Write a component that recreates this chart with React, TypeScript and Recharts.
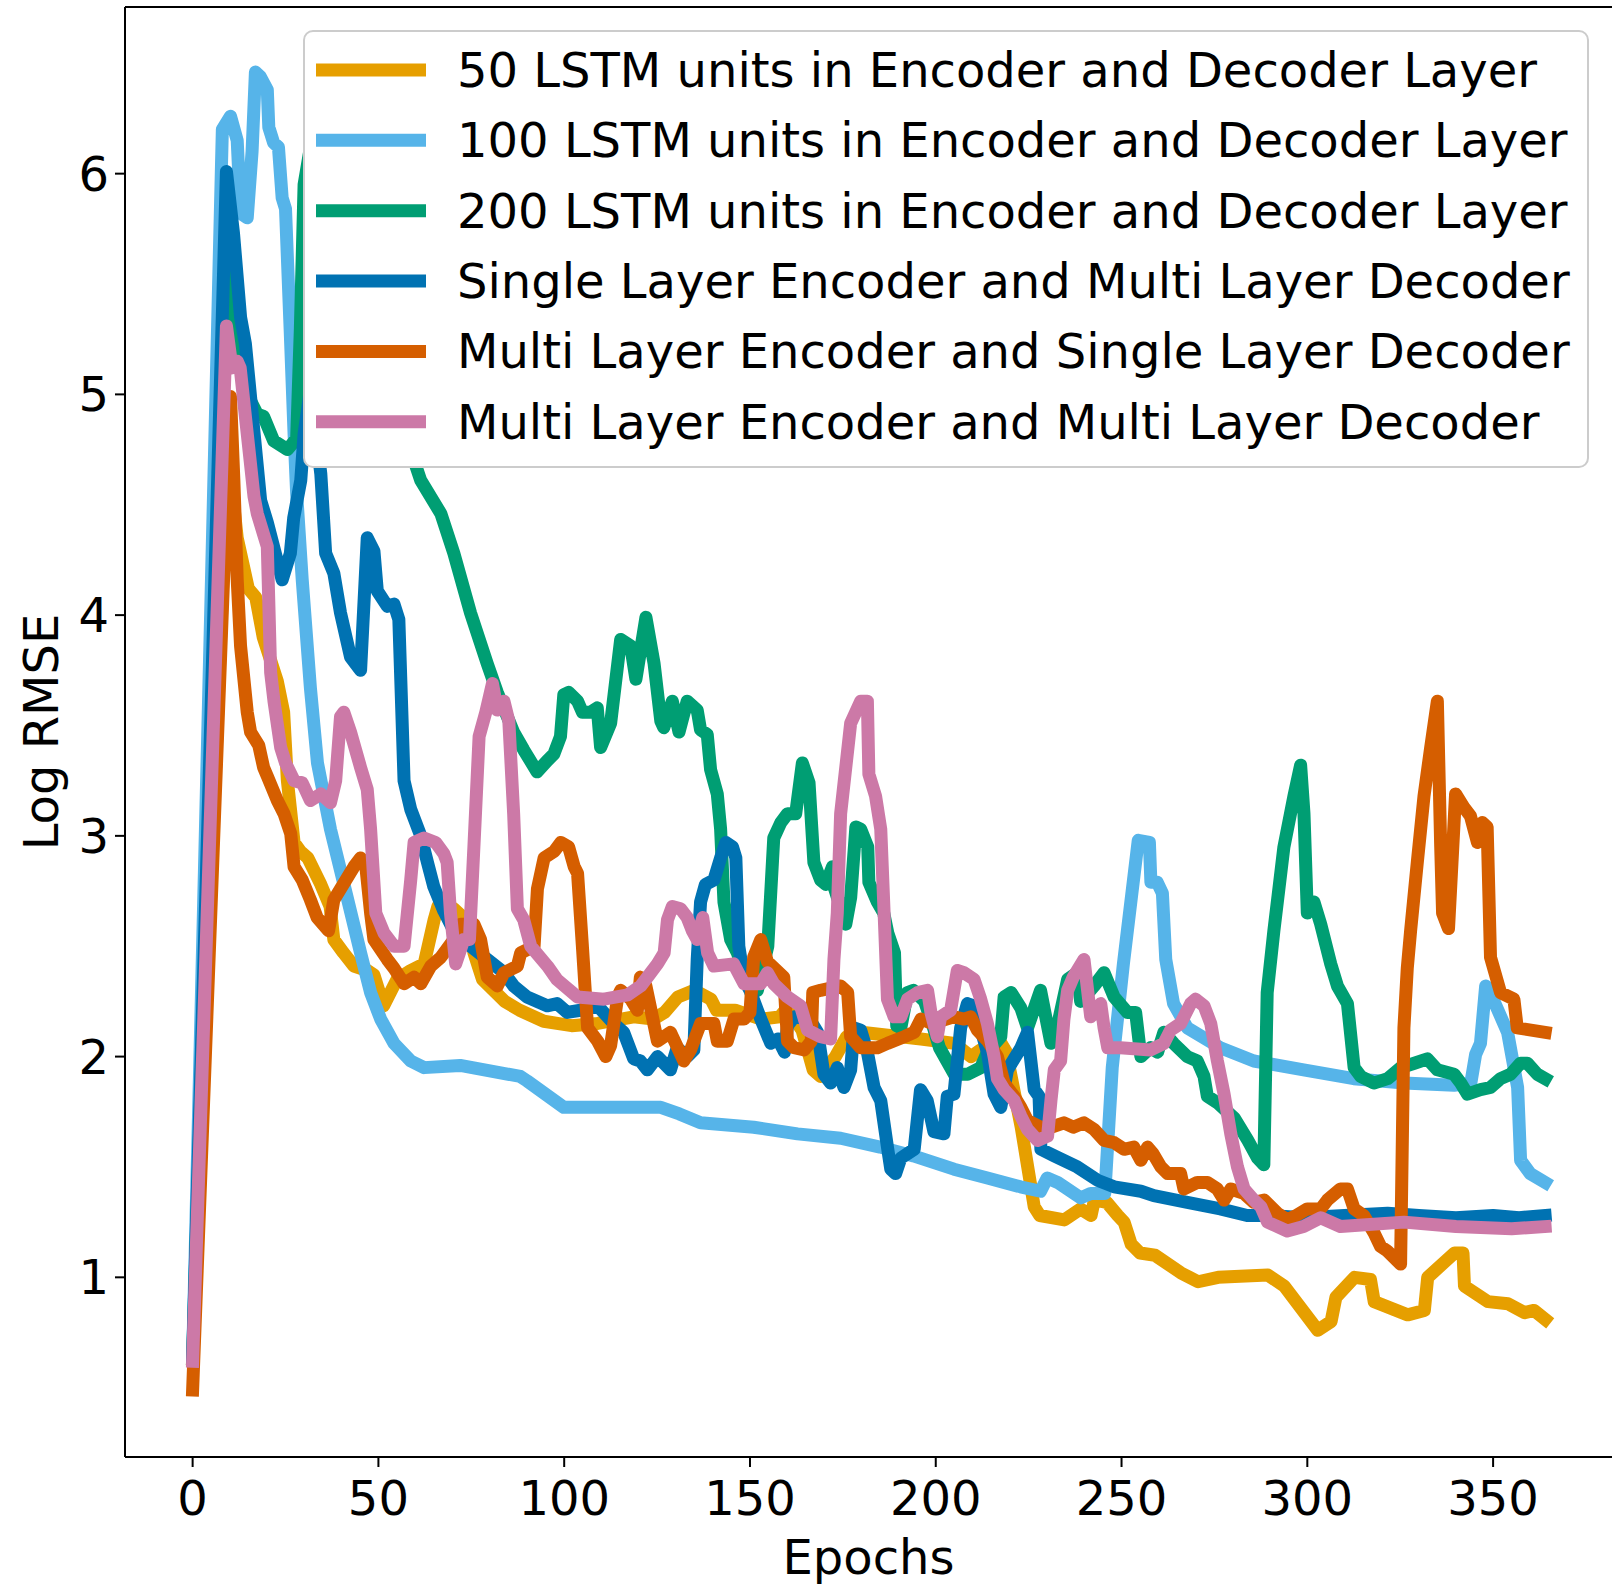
import React from 'react';
import { LineChart, Line, XAxis, YAxis, Legend, Label, ReferenceLine } from 'recharts';

// [epoch, log RMSE] pairs, one list per model
const lstm50 = [
  [0, 0.63], [9.5, 4.75], [12, 4.35], [15, 4.12], [17, 4.08], [19, 3.9], [22.8, 3.7], [24.5, 3.56],
  [25.5, 3.25], [27.3, 2.97], [29, 2.93], [31, 2.9], [34.5, 2.78], [37, 2.68], [38, 2.53], [40.6, 2.47],
  [43.4, 2.41], [47, 2.39], [48.8, 2.37], [51.4, 2.23], [55, 2.35], [58.7, 2.39], [62.3, 2.42], [65, 2.62],
  [66, 2.68], [70.3, 2.67], [74.8, 2.6], [75.7, 2.47], [78, 2.35], [84, 2.25], [88, 2.21], [94.5, 2.16],
  [102, 2.14], [109, 2.15], [118.7, 2.18], [124, 2.17], [127, 2.2], [130.6, 2.27], [135, 2.3], [139.5, 2.26],
  [141, 2.21], [146, 2.21], [153, 2.17], [158, 2.18], [160, 2.22], [164, 2.12], [167, 1.94], [169, 1.91],
  [173, 2.0], [176, 2.09], [180, 2.11], [196, 2.08], [205, 2.06], [209.5, 2.0], [212, 2.03], [217.6, 2.06],
  [219, 2.02], [223, 1.68], [226.5, 1.32], [228, 1.28], [234.6, 1.26], [239, 1.31], [241.8, 1.28], [242.7, 1.35],
  [246, 1.34], [249, 1.28], [250.7, 1.25], [252.6, 1.15], [255, 1.11], [259, 1.1], [266, 1.02], [270.6, 0.98],
  [276, 1.0], [289.4, 1.01], [293.8, 0.96], [302.8, 0.76], [306.4, 0.8], [307.7, 0.91], [312.7, 1.0], [317, 0.99],
  [318, 0.89], [327, 0.83], [331.5, 0.85], [332.4, 1.0], [339.6, 1.11], [341.9, 1.11], [342.3, 0.96], [348.6, 0.89],
  [354, 0.88], [358.5, 0.84], [361, 0.85], [364, 0.81],
];

const lstm100 = [
  [0, 0.63], [8, 6.2], [10.2, 6.26], [12, 6.15], [12.9, 5.82], [14.7, 5.8], [16, 6.1], [16.9, 6.46],
  [18.2, 6.44], [20.1, 6.38], [20.5, 6.21], [21.8, 6.14], [23.1, 6.12], [24.1, 5.89], [25, 5.84], [26.3, 5.27],
  [27.3, 4.82], [28, 4.55], [29.5, 4.16], [31.7, 3.67], [33.6, 3.33], [37.1, 3.03], [41.6, 2.72], [45.2, 2.47],
  [47.9, 2.29], [50.6, 2.17], [54.2, 2.06], [58.7, 1.98], [62.3, 1.95], [72, 1.96], [88.2, 1.91], [90, 1.89],
  [99.9, 1.77], [126, 1.77], [131, 1.74], [136.7, 1.7], [151, 1.68], [162.8, 1.65], [174.4, 1.63], [185, 1.59],
  [194, 1.55], [204.9, 1.49], [213.9, 1.45], [222.8, 1.41], [228.2, 1.39], [230, 1.45], [232.8, 1.43], [239, 1.36],
  [241.7, 1.38], [245.5, 1.38], [247.5, 1.95], [250.5, 2.42], [254.5, 2.98], [257.5, 2.97], [257.9, 2.79], [259.6, 2.79],
  [261, 2.74], [261.9, 2.44], [264, 2.24], [267.7, 2.13], [276.6, 2.04], [285.6, 1.98], [299, 1.94], [312.5, 1.9],
  [326, 1.88], [339.5, 1.87], [344, 1.88], [345.3, 2.01], [346.6, 2.06], [348, 2.32], [348.7, 2.31], [353.9, 2.11],
  [356.6, 1.86], [357.4, 1.53], [360, 1.47], [364, 1.43],
];

const lstm200 = [
  [0, 0.63], [9, 5.6], [10.2, 5.3], [15.6, 4.97], [17.4, 4.91], [19.1, 4.9], [21.8, 4.79], [25.5, 4.75],
  [28, 4.8], [29, 5.3], [30, 5.95], [32, 6.15], [35, 6.1], [40, 5.85], [45, 5.55], [50, 5.25],
  [55, 4.95], [60, 4.68], [61.4, 4.61], [66.8, 4.46], [70.3, 4.28], [74.8, 4.01], [79.3, 3.78], [82, 3.65],
  [86.4, 3.47], [89.1, 3.39], [92.7, 3.29], [95.4, 3.34], [97.2, 3.37], [99, 3.45], [99.9, 3.64], [101.2, 3.65],
  [103.6, 3.61], [104.9, 3.56], [107.1, 3.56], [108.9, 3.58], [109.8, 3.4], [112.5, 3.51], [115.2, 3.89], [117.9, 3.86],
  [119.3, 3.71], [122, 3.99], [124.2, 3.78], [126, 3.52], [126.8, 3.49], [129.1, 3.61], [130.9, 3.47], [133.1, 3.61],
  [135.8, 3.57], [136.7, 3.48], [138.5, 3.46], [139.4, 3.3], [141.2, 3.19], [142.1, 3.03], [143, 2.7], [144.8, 2.53],
  [146.6, 2.47], [149.3, 2.35], [152, 2.3], [154.8, 2.5], [156.4, 2.99], [158.3, 3.06], [160.1, 3.1], [162.3, 3.1],
  [164.1, 3.33], [165.9, 3.24], [167.2, 2.88], [169, 2.8], [170.4, 2.78], [172.2, 2.86], [172.6, 2.77], [175.8, 2.6],
  [177.1, 2.72], [178.5, 3.04], [179.8, 3.03], [181.7, 2.95], [182, 2.79], [184.3, 2.7], [186, 2.65], [187.1, 2.56],
  [188.9, 2.47], [189.5, 2.14], [190.6, 2.13], [192.4, 2.29], [194, 2.3], [197, 2.25], [199.4, 2.13], [201, 2.04],
  [205, 1.92], [208.6, 1.92], [212.1, 1.95], [213.9, 2.02], [217.5, 2.09], [218.4, 2.27], [220.3, 2.29], [222.9, 2.22],
  [224.7, 2.13], [228.2, 2.3], [231, 2.06], [232, 2.08], [235.5, 2.35], [238.1, 2.38], [239, 2.25], [242.6, 2.32],
  [245.3, 2.38], [248, 2.27], [251.6, 2.2], [253.8, 2.2], [255.2, 2.0], [257.8, 2.04], [259.7, 2.02], [261.4, 2.11],
  [264, 2.06], [267.7, 2.0], [270.4, 1.98], [272.2, 1.91], [273.1, 1.82], [275.9, 1.79], [280.4, 1.72], [284, 1.62],
  [286.6, 1.54], [288.3, 1.51], [289.2, 2.29], [291, 2.57], [293.7, 2.95], [296.4, 3.18], [298.2, 3.32], [299.1, 3.1],
  [300, 2.65], [301.8, 2.7], [303.6, 2.6], [306.3, 2.42], [308.1, 2.32], [310.8, 2.24], [312.6, 1.95], [314.4, 1.91],
  [317.9, 1.88], [321.6, 1.9], [325.2, 1.95], [328.8, 1.97], [332.3, 1.99], [335, 1.94], [339.5, 1.92], [341.3, 1.88],
  [343.1, 1.83], [346.6, 1.85], [349.3, 1.86], [352, 1.9], [354.7, 1.92], [357.4, 1.97], [359.2, 1.97], [361.9, 1.92],
  [364, 1.9],
];

const singleEncMultiDec = [
  [0, 0.63], [9.1, 6.01], [11, 5.73], [12.9, 5.35], [14.2, 5.23], [16.1, 4.9], [18.3, 4.52], [20.1, 4.42],
  [24.1, 4.16], [26.3, 4.28], [27.2, 4.44], [29.1, 4.61], [30, 4.82], [31.5, 5.0], [33, 4.85], [34.5, 4.64],
  [35.8, 4.28], [38, 4.19], [39.8, 4.01], [42.5, 3.81], [45.2, 3.75], [47, 4.35], [48.8, 4.29], [49.7, 4.11],
  [52.4, 4.04], [54.2, 4.05], [55.5, 3.98], [56.9, 3.25], [58.7, 3.12], [61.4, 3.0], [63.2, 2.88], [64.9, 2.77],
  [67.6, 2.66], [70.3, 2.57], [74.8, 2.5], [79.3, 2.44], [83.8, 2.38], [86.4, 2.32], [90, 2.27], [95.4, 2.23],
  [98.1, 2.24], [100.8, 2.2], [104.4, 2.21], [109, 2.23], [113.3, 2.15], [116, 2.11], [118.7, 1.99], [120.5, 1.98],
  [122.4, 1.94], [125.1, 2.0], [128.6, 1.94], [130.4, 2.04], [133.1, 2.0], [134.9, 2.03], [135.8, 2.44], [136.7, 2.7],
  [138, 2.78], [140.3, 2.8], [142.1, 2.9], [143.5, 2.97], [145.3, 2.95], [146.2, 2.9], [147, 2.5], [148.4, 2.35],
  [150, 2.3], [152.9, 2.17], [155.6, 2.06], [157.5, 2.08], [159.3, 2.02], [160.1, 2.14], [161.9, 2.18], [166, 2.17],
  [168.2, 2.11], [169.9, 1.92], [171.7, 1.88], [173.5, 1.95], [175.3, 1.86], [177.1, 1.94], [178, 2.13], [179.8, 2.12],
  [181.6, 2.02], [183.4, 1.86], [185.2, 1.8], [187, 1.59], [187.9, 1.49], [189.2, 1.47], [190.6, 1.54], [194.2, 1.58],
  [195.9, 1.85], [197.7, 1.8], [199.5, 1.66], [202.2, 1.65], [203.1, 1.82], [204.9, 1.83], [205.8, 1.98], [206.7, 2.13],
  [208.5, 2.24], [210.3, 2.23], [213.9, 2.02], [215.7, 1.83], [217.5, 1.77], [219.3, 1.94], [222.9, 2.04], [224.7, 2.11],
  [226.5, 1.85], [227.8, 1.82], [228.3, 1.58], [231.9, 1.55], [238.1, 1.5], [243.5, 1.44], [248, 1.41], [255.2, 1.39],
  [258.7, 1.37], [267.7, 1.34], [276.6, 1.31], [283.8, 1.28], [290.1, 1.28], [299, 1.27], [310, 1.28], [321.6, 1.29],
  [330, 1.28], [340, 1.27], [350, 1.28], [357, 1.27], [364, 1.28],
];

const multiEncSingleDec = [
  [0, 0.49], [10.2, 4.99], [11.1, 4.61], [12, 4.16], [12.9, 3.86], [14.7, 3.56], [15.6, 3.47], [17.8, 3.41],
  [19.1, 3.31], [20.1, 3.27], [22.8, 3.16], [24.6, 3.1], [26.4, 3.01], [27.3, 2.86], [29.5, 2.8], [31.7, 2.71],
  [33.5, 2.63], [36.6, 2.57], [38, 2.71], [39.8, 2.76], [43.4, 2.86], [45.2, 2.9], [46.5, 2.88], [47.9, 2.65],
  [48.8, 2.53], [52.4, 2.44], [54.2, 2.4], [56.9, 2.33], [59.6, 2.36], [61.4, 2.33], [64.1, 2.41], [66.8, 2.45],
  [70.3, 2.53], [72.2, 2.6], [75.7, 2.6], [77.5, 2.53], [79.3, 2.36], [82, 2.32], [83.8, 2.38], [87.4, 2.41],
  [88.3, 2.47], [91.9, 2.5], [92.8, 2.76], [94.6, 2.9], [97.3, 2.93], [99.1, 2.97], [101.2, 2.95], [102.7, 2.86],
  [103.6, 2.83], [104.9, 2.5], [106.3, 2.13], [109, 2.07], [111.2, 2.0], [112.5, 2.05], [114.4, 2.27], [115.2, 2.3],
  [117.9, 2.26], [119.7, 2.21], [120.5, 2.36], [122, 2.32], [125.1, 2.07], [128.6, 2.11], [132.2, 1.98], [134, 2.03],
  [136.7, 2.15], [140.3, 2.15], [141.2, 2.07], [143.9, 2.07], [145.7, 2.17], [148.4, 2.17], [150, 2.2], [151, 2.45],
  [152.9, 2.53], [154.7, 2.43], [159.1, 2.36], [160.1, 2.07], [161.9, 2.04], [164.6, 2.03], [166.5, 2.07], [166.9, 2.29],
  [169, 2.3], [174.4, 2.32], [176.3, 2.29], [177.1, 2.09], [179.8, 2.04], [184.3, 2.04], [187, 2.06], [191.5, 2.09],
  [194.2, 2.11], [196, 2.17], [199, 2.15], [204.9, 2.18], [207.6, 2.17], [209.4, 2.18], [211.2, 2.12], [214, 2.07],
  [216.6, 2.0], [218.4, 1.88], [221.1, 1.82], [222.9, 1.77], [224.7, 1.71], [228.3, 1.68], [231, 1.68], [234.5, 1.7],
  [237, 1.68], [239.9, 1.7], [242.6, 1.67], [245.3, 1.62], [248, 1.61], [250.7, 1.58], [253.3, 1.59], [255.2, 1.53],
  [257, 1.59], [258.5, 1.56], [260.6, 1.5], [262.4, 1.47], [265.9, 1.47], [266.8, 1.4], [270.4, 1.43], [273.1, 1.43],
  [275.8, 1.4], [277.6, 1.35], [279.4, 1.4], [282.9, 1.38], [285.6, 1.34], [288.4, 1.35], [292, 1.29], [294.6, 1.26],
  [297, 1.28], [300, 1.31], [303.6, 1.31], [305.4, 1.35], [308.9, 1.4], [310.8, 1.4], [312.6, 1.31], [315.2, 1.28],
  [318, 1.2], [319.7, 1.14], [321.5, 1.12], [325.1, 1.06], [326, 2.13], [326.9, 2.4], [327.8, 2.57], [329.6, 2.88],
  [331.4, 3.18], [333.2, 3.4], [335, 3.61], [335.9, 2.95], [336.4, 2.65], [338, 2.58], [339.9, 3.19], [342.1, 3.13],
  [343.9, 3.09], [345.8, 2.97], [347.1, 3.06], [348.4, 3.04], [349.3, 2.45], [352, 2.29], [355.6, 2.26], [356.5, 2.13],
  [364, 2.11],
];

const multiEncMultiDec = [
  [0, 0.62], [9.1, 5.31], [10.6, 5.12], [12, 5.15], [12.8, 5.12], [14.2, 4.9], [16.5, 4.54], [17.4, 4.46],
  [20.1, 4.31], [21, 3.74], [21.9, 3.61], [23.7, 3.4], [25, 3.33], [27.3, 3.25], [29.5, 3.24], [31.7, 3.16],
  [34.5, 3.19], [37.1, 3.15], [38.5, 3.25], [39.8, 3.54], [40.7, 3.56], [42.5, 3.47], [45.2, 3.31], [47, 3.21],
  [47.9, 3.03], [49.3, 2.65], [51.5, 2.56], [54.2, 2.5], [56.9, 2.5], [58.7, 2.8], [59.6, 2.97], [62.3, 2.99],
  [65.4, 2.97], [67.6, 2.92], [68.5, 2.88], [69.4, 2.65], [70.8, 2.42], [73, 2.53], [74.5, 2.53], [75.7, 2.95],
  [77.1, 3.45], [78.9, 3.56], [80.7, 3.69], [82, 3.57], [83.8, 3.61], [85.1, 3.52], [86.4, 3.1], [87.4, 2.67],
  [89.1, 2.62], [91, 2.5], [95.5, 2.41], [98, 2.35], [103.6, 2.27], [110.7, 2.26], [117.1, 2.28], [120.6, 2.32],
  [123.3, 2.38], [125.1, 2.42], [126.9, 2.47], [127.8, 2.62], [129.1, 2.68], [131.3, 2.67], [133.1, 2.63], [134.5, 2.57],
  [135.8, 2.53], [137.3, 2.63], [138.6, 2.47], [140.3, 2.41], [145.6, 2.42], [148.4, 2.33], [152.9, 2.33], [154.7, 2.38],
  [156.4, 2.33], [160.1, 2.27], [163.6, 2.23], [165.5, 2.12], [169, 2.09], [171.7, 2.08], [172.6, 2.44], [173.5, 2.65],
  [174.4, 3.1], [177.1, 3.51], [179.8, 3.61], [181.6, 3.61], [182, 3.28], [183.8, 3.18], [185.2, 3.03], [186.1, 2.65],
  [187, 2.26], [188.8, 2.18], [190.6, 2.18], [192.4, 2.26], [195.1, 2.29], [197.8, 2.3], [198.7, 2.2], [200.4, 2.09],
  [201.3, 2.18], [204, 2.21], [205.8, 2.39], [207.6, 2.38], [210.3, 2.35], [212.1, 2.26], [213.9, 2.15], [215.7, 2.0],
  [216.6, 1.9], [218.4, 1.85], [221.1, 1.8], [222.9, 1.73], [224.7, 1.67], [227.4, 1.62], [230.1, 1.64], [231, 1.8],
  [231.9, 1.94], [233.6, 1.98], [234.5, 2.17], [235.5, 2.3], [237, 2.36], [239.9, 2.44], [241.7, 2.18], [244.4, 2.24],
  [245.3, 2.13], [246.3, 2.04], [249.7, 2.04], [257.8, 2.03], [261.4, 2.06], [263.2, 2.12], [265.9, 2.15], [268.6, 2.24],
  [269.9, 2.26], [272.2, 2.23], [274, 2.15], [275.8, 1.98], [277.6, 1.83], [279.4, 1.65], [281.2, 1.5], [283, 1.4],
  [285.6, 1.35], [287.5, 1.32], [289.3, 1.25], [294.6, 1.21], [299, 1.23], [303.6, 1.27], [308.9, 1.23], [326, 1.25],
  [340, 1.23], [355, 1.22], [364, 1.23],
];

const SERIES_NAMES = [
  '50 LSTM units in Encoder and Decoder Layer',
  '100 LSTM units in Encoder and Decoder Layer',
  '200 LSTM units in Encoder and Decoder Layer',
  'Single Layer Encoder and Multi Layer Decoder',
  'Multi Layer Encoder and Single Layer Decoder',
  'Multi Layer Encoder and Multi Layer Decoder',
];
const SERIES_DATA = [lstm50, lstm100, lstm200, singleEncMultiDec, multiEncSingleDec, multiEncMultiDec];
const COLORS = ['#E69F00', '#56B4E9', '#009E73', '#0072B2', '#D55E00', '#CC79A7'];

const X_TICKS = [0, 50, 100, 150, 200, 250, 300, 350];
const Y_TICKS = [1, 2, 3, 4, 5, 6];
const X_DOMAIN = [-18.2, 382.0];
const Y_DOMAIN = [0.186, 6.755];

const FONT = 'DejaVu Sans';
const LINE_W = 13;

const toPoints = (pairs: number[][]) => pairs.map(([epoch, rmse]) => ({ epoch, rmse }));

const renderLegend = () => (
  <svg width={1287} height={439} style={{ display: 'block' }}>
    <rect x={1} y={1} width={1284} height={436} rx={9} ry={9} fill="#fff" stroke="#cccccc" strokeWidth={2} />
    {SERIES_NAMES.map((name, i) => {
      const cy = 40 + i * 70.35;
      return (
        <g key={name}>
          <line x1={13} x2={123} y1={cy} y2={cy} stroke={COLORS[i]} strokeWidth={LINE_W} />
          <text x={154} y={cy + 16.8} fontSize={48} fontFamily={FONT} fill="#000">
            {name}
          </text>
        </g>
      );
    })}
  </svg>
);

const YLabel = (props: any) => {
  const vb = props.viewBox;
  const cy = vb.y + vb.height / 2;
  return (
    <text x={58} y={cy} transform={`rotate(-90, 58, ${cy})`} textAnchor="middle" fontSize={48} fontFamily={FONT} fill="#000">
      Log RMSE
    </text>
  );
};

const XLabel = (props: any) => {
  const vb = props.viewBox;
  return (
    <text x={vb.x + vb.width / 2} y={1574} textAnchor="middle" fontSize={48} fontFamily={FONT} fill="#000">
      Epochs
    </text>
  );
};

const App: React.FC = () => {
  const tickStyle = { fontSize: 48, fontFamily: FONT, fill: '#000' };
  return (
    <div style={{ position: 'absolute', left: 0, top: 0, width: 1612, height: 1585, background: '#fff' }}>
      <LineChart width={1612} height={1585} margin={{ top: 7, right: 0, bottom: 0, left: 0 }}>
        <XAxis
          type="number"
          dataKey="epoch"
          domain={X_DOMAIN}
          ticks={X_TICKS}
          allowDataOverflow
          height={128}
          tick={tickStyle}
          tickSize={10}
          tickMargin={14}
          axisLine={{ stroke: '#000', strokeWidth: 2 }}
          tickLine={{ stroke: '#000', strokeWidth: 2 }}
        >
          <Label content={XLabel} />
        </XAxis>
        <YAxis
          type="number"
          domain={Y_DOMAIN}
          ticks={Y_TICKS}
          allowDataOverflow
          width={125}
          tick={tickStyle}
          tickSize={10}
          tickMargin={6}
          axisLine={{ stroke: '#000', strokeWidth: 2 }}
          tickLine={{ stroke: '#000', strokeWidth: 2 }}
        >
          <Label content={YLabel} />
        </YAxis>
        <ReferenceLine y={Y_DOMAIN[1]} stroke="#000" strokeWidth={2} ifOverflow="visible" />
        {SERIES_DATA.map((pairs, i) => (
          <Line
            key={SERIES_NAMES[i]}
            data={toPoints(pairs)}
            dataKey="rmse"
            name={SERIES_NAMES[i]}
            type="linear"
            stroke={COLORS[i]}
            strokeWidth={LINE_W}
            strokeLinecap="square"
            strokeLinejoin="round"
            dot={false}
            activeDot={false}
            isAnimationActive={false}
          />
        ))}
        <Legend
          content={renderLegend}
          layout="vertical"
          align="center"
          verticalAlign="middle"
          wrapperStyle={{ left: 303, top: 30, width: 1287, height: 439 }}
        />
      </LineChart>
    </div>
  );
};

export default App;
